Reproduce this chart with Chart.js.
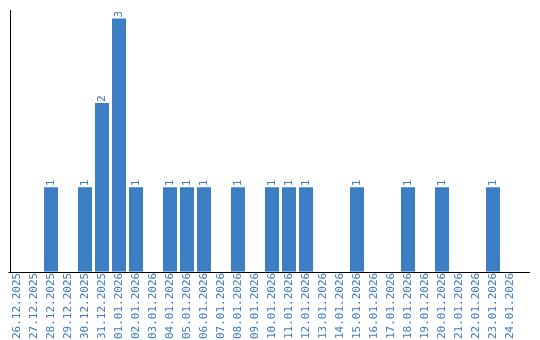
<!DOCTYPE html>
<html>
<head>
<meta charset="utf-8">
<script src="https://cdn.jsdelivr.net/npm/chart.js@4/dist/chart.umd.min.js"></script>
<style>
html,body{margin:0;padding:0;background:#fff;}
#wrap{width:540px;height:340px;}
</style>
</head>
<body>
<div id="wrap"><canvas id="c" width="540" height="340"></canvas></div>
<script>
const categories = ["26.12.2025","27.12.2025","28.12.2025","29.12.2025","30.12.2025","31.12.2025",
  "01.01.2026","02.01.2026","03.01.2026","04.01.2026","05.01.2026","06.01.2026","07.01.2026",
  "08.01.2026","09.01.2026","10.01.2026","11.01.2026","12.01.2026","13.01.2026","14.01.2026",
  "15.01.2026","16.01.2026","17.01.2026","18.01.2026","19.01.2026","20.01.2026","21.01.2026",
  "22.01.2026","23.01.2026","24.01.2026"];
const counts = [0,0,1,0,1,2,3,1,0,1,1,1,0,1,0,1,1,1,0,0,1,0,0,1,0,1,0,0,1,0];

const BLUE = "#3c7ec3";
const FONT = "'DejaVu Sans Mono', monospace";

const valueLabels = {
  id: 'valueLabels',
  afterDatasetsDraw(chart) {
    const ctx = chart.ctx;
    const meta = chart.getDatasetMeta(0);
    ctx.save();
    ctx.fillStyle = BLUE;
    ctx.font = "11px " + FONT;
    ctx.textAlign = 'left';
    ctx.textBaseline = 'middle';
    meta.data.forEach((bar, i) => {
      const v = counts[i];
      if (!v) return;
      ctx.save();
      ctx.translate(bar.x, bar.y - 1);
      ctx.rotate(-Math.PI / 2);
      ctx.fillText(String(v), 0, 0);
      ctx.restore();
    });
    ctx.restore();
  }
};

const axisLine = {
  id: 'axisLine',
  afterDraw(chart) {
    const ctx = chart.ctx;
    const a = chart.chartArea;
    ctx.save();
    ctx.strokeStyle = '#000';
    ctx.lineWidth = 1;
    ctx.beginPath();
    ctx.moveTo(Math.round(a.left) - 0.5, Math.round(a.bottom) + 0.5);
    ctx.lineTo(530, Math.round(a.bottom) + 0.5);
    ctx.stroke();
    ctx.beginPath();
    ctx.moveTo(10.5, Math.round(a.top));
    ctx.lineTo(10.5, Math.round(a.bottom) + 1);
    ctx.stroke();
    ctx.restore();
  }
};

new Chart(document.getElementById('c'), {
  type: 'bar',
  data: {
    labels: categories,
    datasets: [{
      data: counts,
      backgroundColor: BLUE,
      borderWidth: 0,
      barPercentage: 1,
      categoryPercentage: 14/17
    }]
  },
  options: {
    responsive: false,
    animation: false,
    layout: { padding: { left: 8.5, right: 21.5, top: 10, bottom: 0 } },
    plugins: { legend: { display: false }, tooltip: { enabled: false } },
    scales: {
      x: {
        grid: { display: false, drawTicks: false },
        border: { display: false },
        ticks: {
          color: BLUE,
          font: { family: FONT, size: 11 },
          minRotation: 90, maxRotation: 90,
          autoSkip: false,
          padding: 1
        }
      },
      y: {
        display: true,
        min: 0, max: 3.1,
        grid: { display: false, drawTicks: false },
        border: { display: false },
        ticks: { display: false }
      }
    }
  },
  plugins: [valueLabels, axisLine]
});
</script>
</body>
</html>
